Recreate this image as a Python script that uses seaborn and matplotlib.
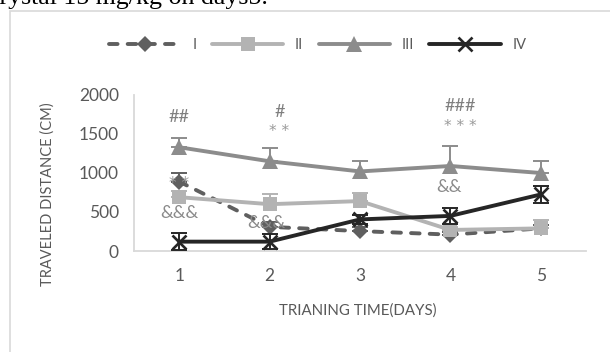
import matplotlib
matplotlib.use("Agg")
import matplotlib.pyplot as plt
import seaborn as sns
import pandas as pd
from matplotlib.patches import Rectangle

# Training days and the four groups
days = [1, 2, 3, 4, 5]
groups = ["I", "II", "III", "IV"]

# Mean traveled distance (cm) per day
dist_I = [890, 310, 255, 210, 290]
dist_II = [690, 600, 640, 270, 290]
dist_III = [1330, 1150, 1020, 1090, 1000]
dist_IV = [120, 120, 405, 450, 725]

# Error (SEM) per day
err_I = [115, 60, 50, 40, 40]
err_II = [80, 130, 105, 40, 110]
err_III = [125, 170, 130, 255, 160]
err_IV = [110, 100, 60, 100, 105]

# Significance marks: text, day, height (cm)
mark_text = ["##", "#", "* *", "&&&", "* *", "&&&", "###", "* * *", "&&"]
mark_day = [1.0, 2.11, 2.11, 1.0, 1.0, 1.96, 4.11, 4.11, 3.99]
mark_y = [1722, 1786, 1538, 491, 859, 359, 1859, 1602, 824]
mark_color = ["#7f7f7f", "#7f7f7f", "#9a9a9a", "#8a8a8a", "#9a9a9a",
              "#8a8a8a", "#7f7f7f", "#9a9a9a", "#8a8a8a"]
mark_size = [13, 13, 11, 13, 11, 13, 13, 11, 13]
mark_font = ["Lato", "Lato", "DejaVu Sans", "Lato", "DejaVu Sans", "Lato",
             "Lato", "DejaVu Sans", "Lato"]

df = pd.DataFrame({
    "day": days * 4,
    "distance": dist_I + dist_II + dist_III + dist_IV,
    "err": err_I + err_II + err_III + err_IV,
    "group": [g for g in groups for _ in days],
})

sns.set_theme(style="white")
plt.rcParams["font.family"] = ["Lato", "DejaVu Sans"]

W, H = 610, 352
fig = plt.figure(figsize=(W / 100, H / 100), dpi=100)
x0, x1, y0, y1 = 134, 586, 251, 95
ax = fig.add_axes([x0 / W, 1 - y0 / H, (x1 - x0) / W, (y0 - y1) / H])

style = {
    "I": dict(color="#5f5f5f", marker="D", ms=8.5, mew=0, dashed=True, both=False),
    "II": dict(color="#b3b3b3", marker="s", ms=9.5, mew=0, dashed=False, both=False),
    "III": dict(color="#8c8c8c", marker="^", ms=11, mew=0, dashed=False, both=False),
    "IV": dict(color="#262626", marker="x", ms=10.5, mew=1.9, dashed=False, both=True),
}

for i, g in enumerate(groups):
    s = style[g]
    sub = df[df["group"] == g]
    z = 3 + i
    zeros = [0] * len(sub)
    yerr = sub["err"].to_list() if s["both"] else [zeros, sub["err"].to_list()]
    ax.errorbar(sub["day"], sub["distance"], yerr=yerr, fmt="none",
                ecolor=s["color"], elinewidth=1.4, capsize=5.5, capthick=1.4,
                zorder=z)
    sns.lineplot(data=sub, x="day", y="distance", ax=ax, color=s["color"],
                 marker=s["marker"], markersize=s["ms"], markeredgewidth=s["mew"],
                 markeredgecolor=s["color"], markerfacecolor=s["color"],
                 linewidth=2.8, label=g, zorder=z + 0.5)
    line = ax.lines[-1]
    if s["dashed"]:
        line.set_dashes((2.2, 2.6))
        line.set_dash_capstyle("round")
    else:
        line.set_solid_capstyle("round")

for t, d, v, c, fs, fam in zip(mark_text, mark_day, mark_y, mark_color,
                               mark_size, mark_font):
    ax.text(d, v, t, ha="center", va="center", fontsize=fs, color=c,
            family=[fam], zorder=10)

ax.set_xlim(0.5, 5.5)
ax.set_ylim(0, 2000)
ax.set_xticks(days)
ax.set_xticklabels([str(d) for d in days])
ax.set_yticks([0, 500, 1000, 1500, 2000])
ax.tick_params(axis="both", length=0, labelsize=12.5, colors="#595959")
ax.tick_params(axis="y", pad=11)
ax.tick_params(axis="x", pad=12)
for side in ["top", "right"]:
    ax.spines[side].set_visible(False)
for side in ["left", "bottom"]:
    ax.spines[side].set_color("#d9d9d9")
    ax.spines[side].set_linewidth(1.3)

ax.set_xlabel("TRIANING TIME(DAYS)", fontsize=10.8, color="#595959", va="center")
ax.xaxis.set_label_coords(0.496, (y0 - 311) / (y0 - y1))
ax.set_ylabel("TRAVELED DISTANCE (CM)", fontsize=10.5, color="#595959", va="center")
ax.yaxis.set_label_coords((48 - x0) / (x1 - x0), (y0 - 194) / (y0 - y1))

handles, labels = ax.get_legend_handles_labels()
leg = ax.legend(handles, labels, ncol=4, frameon=False, fontsize=10.5,
                handlelength=4.9, handletextpad=0.8, columnspacing=1.05,
                loc="center", bbox_to_anchor=(318 / W, 1 - 45 / H),
                bbox_transform=fig.transFigure)
for txt in leg.get_texts():
    txt.set_color("#595959")

# Chart frame and the caption line above it
fig.add_artist(Rectangle((10 / W, -0.2), 2, 1 - 11 / H + 0.2, transform=fig.transFigure,
                         fill=False, ec="#d9d9d9", lw=1.2))
fig.text(268 / W, 1 - 4 / H, "crystal 15 mg/kg on days5.", ha="right", va="baseline",
         fontsize=18.6, family=["Liberation Serif"], color="black")

fig.savefig("out.png", dpi=100)
